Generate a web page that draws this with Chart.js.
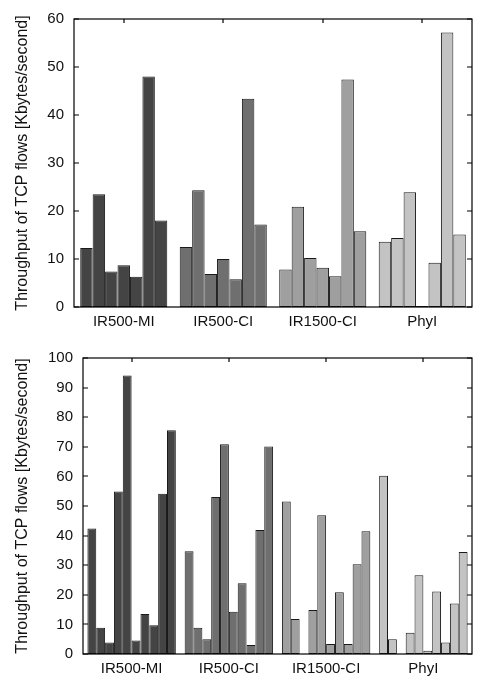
<!DOCTYPE html>
<html>
<head>
<meta charset="utf-8">
<script src="https://cdn.jsdelivr.net/npm/chart.js@4"></script>
<style>
  html, body { margin: 0; padding: 0; background: #fff; }
  canvas { display: block; }
</style>
</head>
<body>
<canvas id="top" width="478" height="335"></canvas>
<canvas id="bottom" width="478" height="344"></canvas>
<script>
// groups along the x axis
const groups = ['IR500-MI', 'IR500-CI', 'IR1500-CI', 'PhyI'];
const groupColors = ['#444444', '#6f6f6f', '#9f9f9f', '#c3c3c3'];
const yTitle = 'Throughput of TCP flows [Kbytes/second]';

// upper panel: 7 flows per group
const topIR500MI  = [12.3, 23.5, 7.4, 8.7, 6.3, 48.0, 18.0];
const topIR500CI  = [12.5, 24.3, 6.9, 10.0, 5.8, 43.4, 17.2];
const topIR1500CI = [7.8, 20.9, 10.2, 8.2, 6.4, 47.4, 15.8];
const topPhyI     = [13.6, 14.4, 23.9, 0.2, 9.2, 57.2, 15.1];

// lower panel: 10 flows per group
const botIR500MI  = [42.4, 8.9, 3.9, 54.9, 94.1, 4.6, 13.5, 9.7, 54.1, 75.6];
const botIR500CI  = [34.7, 8.9, 5.0, 53.0, 70.9, 14.3, 23.9, 3.0, 41.9, 70.1];
const botIR1500CI = [51.5, 11.8, 0, 14.9, 46.9, 3.4, 20.9, 3.4, 30.3, 41.5];
const botPhyI     = [60.2, 5.0, 0, 7.2, 26.6, 1.1, 21.1, 3.9, 17.1, 34.5];

const fontFamily = '"Liberation Sans", Arial, Helvetica, sans-serif';

// box round the plot with inward ticks, gnuplot style
const framePlugin = {
    id: 'frame',
    afterDatasetsDraw(chart) {
        const { ctx, chartArea: a, scales: { x, y } } = chart;
        ctx.save();
        ctx.strokeStyle = '#000';
        ctx.lineWidth = 1.2;
        ctx.strokeRect(a.left, a.top, a.right - a.left, a.bottom - a.top);
        ctx.beginPath();
        y.ticks.forEach(t => {
            const py = Math.round(y.getPixelForValue(t.value));
            ctx.moveTo(a.left, py); ctx.lineTo(a.left + 5, py);
            ctx.moveTo(a.right, py); ctx.lineTo(a.right - 5, py);
        });
        x.ticks.forEach((t, i) => {
            const px = Math.round(x.getPixelForTick(i));
            ctx.moveTo(px, a.top); ctx.lineTo(px, a.top + 4);
        });
        ctx.stroke();
        ctx.restore();
    }
};

function draw(id, rows, yMax, opts) {
    const n = rows[0].length;
    const datasets = [];
    for (let i = 0; i < n; i++) {
        datasets.push({
            data: rows.map(r => r[i]),
            backgroundColor: groupColors,
            borderColor: '#1a1a1a',
            borderWidth: 1,
            borderSkipped: false,
            categoryPercentage: n / (n + 1),
            barPercentage: 1
        });
    }
    new Chart(document.getElementById(id), {
        type: 'bar',
        data: { labels: groups, datasets },
        plugins: [framePlugin],
        options: {
            responsive: false,
            animation: false,
            events: [],
            layout: { padding: { top: opts.top, right: 6, left: 0, bottom: 0 } },
            plugins: { legend: { display: false }, tooltip: { enabled: false } },
            scales: {
                x: {
                    grid: { display: false, drawTicks: false },
                    border: { display: false },
                    ticks: { color: '#111', font: { family: fontFamily, size: 15 }, padding: 6, maxRotation: 0 },
                    afterFit: s => { s.height = opts.xHeight; }
                },
                y: {
                    min: 0,
                    max: yMax,
                    grid: { display: false, drawTicks: false },
                    border: { display: false },
                    ticks: { stepSize: 10, color: '#111', font: { family: fontFamily, size: 15 }, padding: 10 },
                    title: {
                        display: true,
                        text: yTitle,
                        color: '#111',
                        font: { family: fontFamily, size: 16, weight: 'normal' },
                        padding: { top: 13, bottom: 0 }
                    },
                    afterFit: s => { s.width = opts.yWidth; }
                }
            }
        }
    });
}

draw('top', [topIR500MI, topIR500CI, topIR1500CI, topPhyI], 60, { top: 12, xHeight: 28, yWidth: 74 });
draw('bottom', [botIR500MI, botIR500CI, botIR1500CI, botPhyI], 100, { top: 23, xHeight: 25, yWidth: 83 });
</script>
</body>
</html>
